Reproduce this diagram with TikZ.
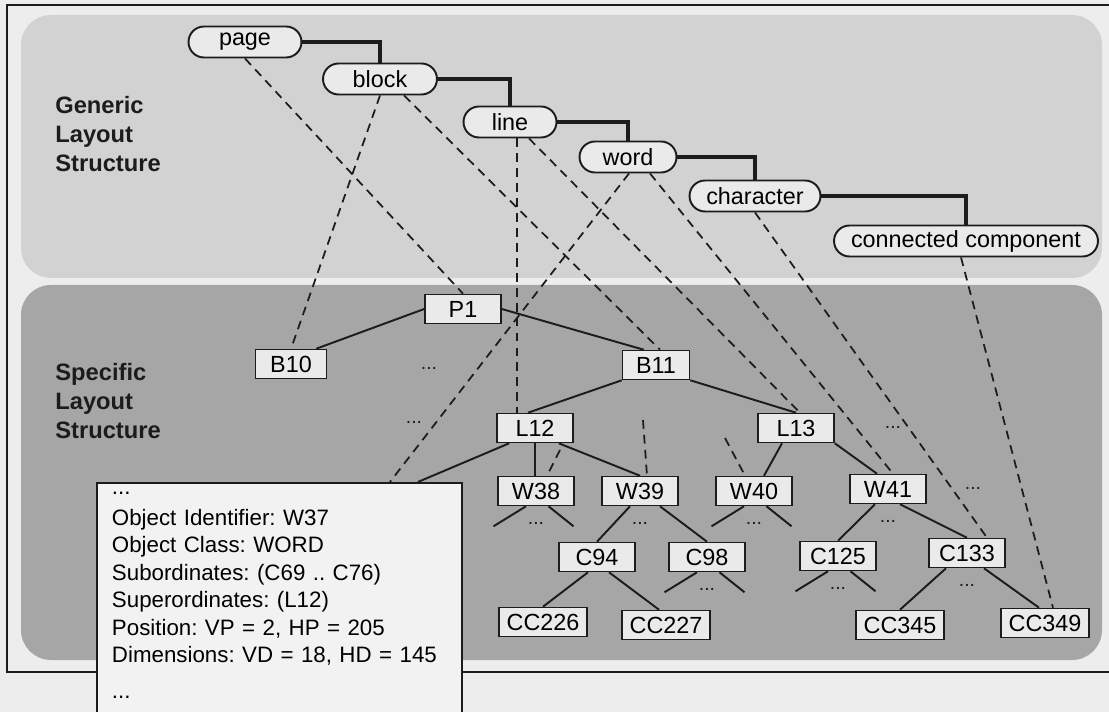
\documentclass[tikz,border=0pt]{standalone}
\usepackage{fontspec}
\setmainfont{Liberation Sans}
\usepackage{tikz}
\usetikzlibrary{positioning}
\definecolor{PaperGray}{HTML}{EDEDED}
\definecolor{GenericGray}{HTML}{D2D2D2}
\definecolor{SpecificGray}{HTML}{A6A6A6}
\definecolor{NodeFill}{HTML}{EAEAEA}
\definecolor{BoxFill}{HTML}{F2F2F2}
\definecolor{InkBlack}{HTML}{1C1C1C}
\frenchspacing

\begin{document}
\begin{tikzpicture}[x=0.02cm, y=-0.02cm,
  generic_node/.style={draw=InkBlack, line width=1.1pt, fill=NodeFill,
    rounded corners=0.31cm, minimum height=0.62cm, inner sep=0pt,
    font=\fontsize{13.3}{15.7}\selectfont},
  specific_node/.style={draw=InkBlack, line width=0.9pt, fill=NodeFill,
    minimum height=0.58cm, minimum width=1.52cm, inner xsep=4.5pt, inner ysep=0pt,
    font=\fontsize{13.3}{15.7}\selectfont},
  info_box/.style={draw=InkBlack, line width=1.1pt, fill=BoxFill, anchor=north west,
    align=left, text width=6.7cm, inner xsep=0.3cm, inner ysep=0pt,
    font=\fontsize{12.7}{15.6}\selectfont},
  class_edge/.style={InkBlack, line width=1.8pt},
  tree_edge/.style={InkBlack, line width=1.1pt},
  link/.style={InkBlack, line width=1pt, dash pattern=on 5pt off 3.5pt},
  dots_style/.style={font=\fontsize{11}{13}\selectfont, inner sep=0pt, text=InkBlack},
  label_style/.style={font=\fontsize{13.5}{16.4}\selectfont\bfseries, align=left,
    anchor=west, inner sep=0pt, text=InkBlack}
]
  \useasboundingbox (0,0) rectangle (1109,712);
  \clip (0,0) rectangle (1109,712);
  \fill[PaperGray] (0,0) rectangle (1109,712);

  % frame and the two layers
  \draw[InkBlack, line width=1.2pt] (1120,5) -- (7,5) -- (7,672) -- (1120,672);
  \fill[GenericGray, rounded corners=0.6cm] (21,15) rectangle (1102,278);
  \fill[SpecificGray, rounded corners=0.6cm] (21,285) rectangle (1102,660);

  \node[label_style] (generic) at (55,134) {Generic\\Layout\\Structure};
  \node[label_style] (specific) at (55,401) {Specific\\Layout\\Structure};

  % generic layout structure
  \node[generic_node, minimum width=2.26cm] (page) at (245,42) {page};
  \node[generic_node, minimum width=2.28cm] (block) at (380,79) {block};
  \node[generic_node, minimum width=1.86cm] (line) at (510,122) {line};
  \node[generic_node, minimum width=1.94cm] (word) at (628,157) {word};
  \node[generic_node, minimum width=2.62cm] (character) at (755,196) {character};
  \node[generic_node, minimum width=5.28cm] (conncomp) at (966,241) {connected component};

  \draw[class_edge] (page.east) -| (block.north);
  \draw[class_edge] (block.east) -| (line.north);
  \draw[class_edge] (line.east) -| (word.north);
  \draw[class_edge] (word.east) -| (character.north);
  \draw[class_edge] (character.east) -| (conncomp.north);

  % specific layout structure
  \node[specific_node] (P1) at (463,309) {P1};
  \node[specific_node, minimum width=1.42cm] (B10) at (291,364) {B10};
  \node[specific_node, minimum width=1.34cm] (B11) at (656,365) {B11};
  \node[specific_node] (L12) at (535,428) {L12};
  \node[specific_node] (L13) at (796,428) {L13};
  \node[specific_node] (W38) at (536,491) {W38};
  \node[specific_node] (W39) at (640,491) {W39};
  \node[specific_node] (W40) at (754,491) {W40};
  \node[specific_node] (W41) at (888,489) {W41};
  \node[specific_node] (C94) at (597,557) {C94};
  \node[specific_node] (C98) at (707,557) {C98};
  \node[specific_node] (C125) at (838,556) {C125};
  \node[specific_node] (C133) at (967,553) {C133};
  \node[specific_node] (CC226) at (543,622) {CC226};
  \node[specific_node] (CC227) at (666,625) {CC227};
  \node[specific_node] (CC345) at (900,625) {CC345};
  \node[specific_node] (CC349) at (1045,623) {CC349};

  \draw[tree_edge] (P1.west) -- ([xshift=-0.22cm]B10.north east);
  \draw[tree_edge] (P1.east) -- ([xshift=0.44cm]B11.north west);
  \draw[tree_edge] (B11.south west) -- ([xshift=-0.14cm]L12.north);
  \draw[tree_edge] (B11.south east) -- (L13.north);
  \draw[tree_edge] (L12.south) -- (L12.south |- W38.north);
  \draw[tree_edge] ([xshift=-0.3cm]L12.south east) -- (W39.north);
  \draw[tree_edge] ([xshift=-0.28cm]L13.south) -- ([xshift=0.2cm]W40.north);
  \draw[tree_edge] (L13.south east) -- ([xshift=-0.22cm]W41.north);
  \draw[tree_edge] ([xshift=-0.2cm]W39.south) -- (C94.north);
  \draw[tree_edge] ([xshift=0.4cm]W39.south) -- (C98.north);
  \draw[tree_edge] ([xshift=-0.26cm]W41.south) -- (C125.north);
  \draw[tree_edge] ([xshift=0.24cm]W41.south) -- (C133.north);
  \draw[tree_edge] ([xshift=-0.18cm]C94.south) -- (CC226.north);
  \draw[tree_edge] ([xshift=0.24cm]C94.south) -- ([xshift=-0.14cm]CC227.north);
  \draw[tree_edge] ([xshift=-0.42cm]C133.south) -- (CC345.north);
  \draw[tree_edge] ([xshift=0.34cm]C133.south) -- ([xshift=-0.12cm]CC349.north);

  % open branches
  \foreach \n in {W38, W40, C98, C125} {
    \coordinate (\n_l) at ([xshift=-0.85cm, yshift=-0.4cm]\n.south);
    \coordinate (\n_r) at ([xshift=0.75cm, yshift=-0.4cm]\n.south);
    \draw[tree_edge] ([xshift=-0.2cm]\n.south) -- (\n_l);
    \draw[tree_edge] ([xshift=0.25cm]\n.south) -- (\n_r);
  }
  \foreach \n in {W38, W39, W40, W41, C98, C125, C133}
    \node[dots_style, below=0.32cm of \n] (\n_dots) {...};
  \node[dots_style] (dots_b) at (429,368) {...};
  \node[dots_style] (dots_l) at (414,422) {...};
  \node[dots_style] (dots_w) at (893,427) {...};
  \node[dots_style] (dots_c) at (973,488) {...};

  % object description
  \node[info_box] (W37) at (96,482) {\rule{0pt}{6.6pt}...\\[2pt]Object Identifier: W37\\
    Object Class: WORD\\Subordinates: (C69 .. C76)\\Superordinates: (L12)\\
    Position: VP = 2, HP = 205\\Dimensions: VD = 18, HD = 145\\[5pt]
    ...\rule[-14pt]{0pt}{14pt}};
  \draw[tree_edge] ([xshift=0.26cm]L12.south west) -- ([xshift=-0.9cm]W37.north east);

  % generic to specific
  \coordinate (W38_up) at (560,450);
  \coordinate (W39_up) at (643,420);
  \coordinate (W40_up) at (725,438);
  \draw[link] (page.south) -- (P1.north);
  \draw[link] (block.south) -- (B10.north);
  \draw[link] ([xshift=0.48cm]block.south) -- ([xshift=0.08cm]B11.north);
  \draw[link] ([xshift=0.14cm]line.south) -- ([xshift=0.14cm]line.south |- L12.north);
  \draw[link] ([xshift=0.38cm]line.south) -- ([xshift=0.08cm]L13.north);
  \draw[link] ([xshift=0.02cm]word.south) -- ([xshift=5.88cm]W37.north west);
  \draw[link] ([xshift=0.44cm]word.south) -- ([xshift=0.1cm]W41.north);
  \draw[link] (character.south) -- ([xshift=0.4cm]C133.north);
  \draw[link] ([xshift=-0.1cm]conncomp.south) -- ([xshift=0.16cm]CC349.north);
  \draw[link] (W38_up) -- ([xshift=0.22cm]W38.north);
  \draw[link] (W39_up) -- ([xshift=0.14cm]W39.north);
  \draw[link] (W40_up) -- ([xshift=-0.18cm]W40.north);

\end{tikzpicture}
\end{document}
